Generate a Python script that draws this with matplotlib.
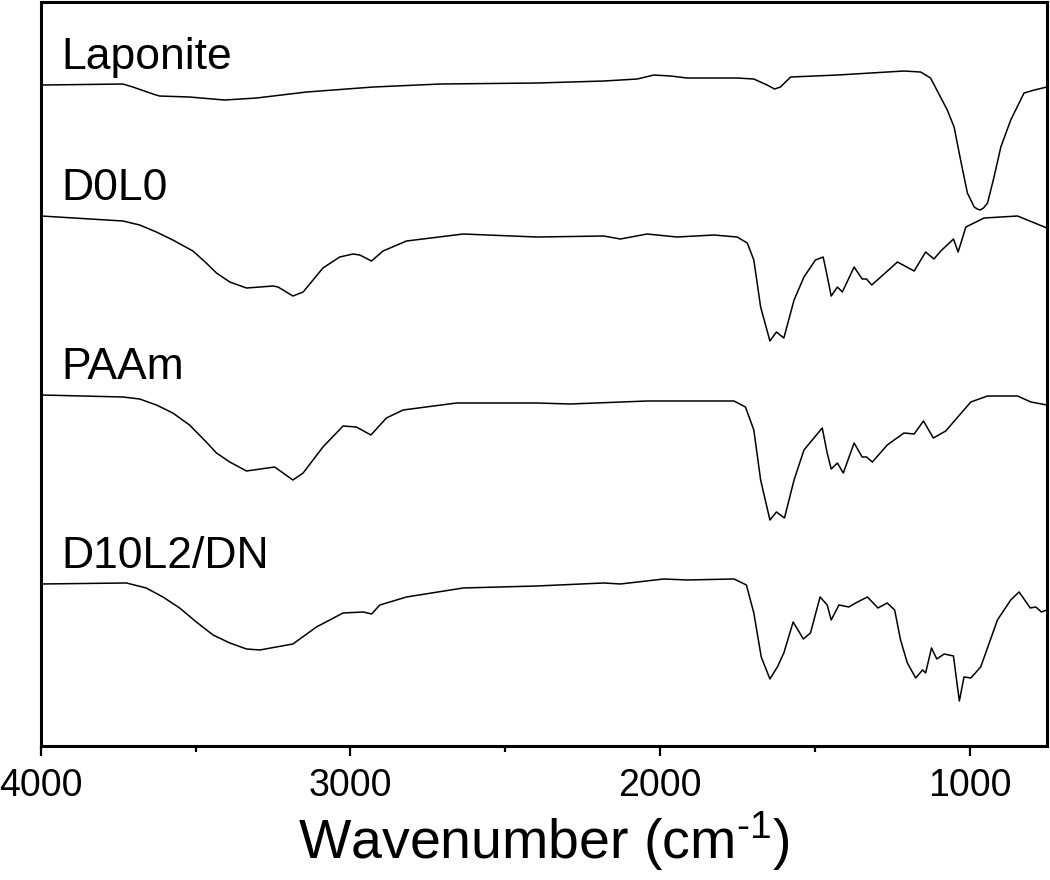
import matplotlib
matplotlib.use("Agg")
import matplotlib.pyplot as plt
from matplotlib.ticker import MultipleLocator

plt.rcParams["font.family"] = ["Liberation Sans", "DejaVu Sans"]
plt.rcParams["mathtext.fontset"] = "custom"
plt.rcParams["mathtext.rm"] = "Liberation Sans"
plt.rcParams["mathtext.default"] = "regular"
plt.rcParams["axes.unicode_minus"] = False

# FTIR spectra, transmittance in arbitrary units (already stacked)
lap_wn = [3998, 3735, 3703, 3638, 3617, 3520, 3407, 3304, 3142, 2927, 2711, 2398, 2182,
          2074, 2020, 1966, 1912, 1751, 1697, 1654, 1630, 1611, 1578, 1427, 1320, 1212,
          1158, 1126, 1072, 1050, 1029, 1007, 985, 975, 966, 955, 942, 921, 899, 867,
          824, 791, 750]
lap_t = [661, 662, 659, 652, 650, 649, 646, 648, 654, 659, 662, 663, 665,
         667, 671, 670, 668, 668, 667, 661, 657, 659, 669, 671, 673, 675,
         674, 668, 636, 619, 586, 553, 539, 537, 536, 538, 543, 569, 599, 626,
         653, 656, 659]

d0l0_wn = [3998, 3735, 3681, 3627, 3574, 3509, 3466, 3433, 3390, 3336, 3250, 3234, 3186,
           3153, 3121, 3089, 3035, 2992, 2970, 2932, 2895, 2819, 2636, 2398, 2182, 2128,
           2042, 1945, 1826, 1751, 1718, 1697, 1675, 1645, 1624, 1600, 1567, 1535, 1498,
           1473, 1462, 1447, 1427, 1411, 1373, 1347, 1333, 1316, 1233, 1179, 1142, 1115,
           1093, 1052, 1037, 1012, 953, 845, 750]
d0l0_t = [530, 525, 521, 514, 506, 495, 483, 473, 464, 458, 460, 459, 450,
          454, 466, 478, 489, 492, 491, 485, 495, 505, 512, 509, 510, 507,
          512, 509, 511, 509, 503, 486, 439, 405, 414, 408, 446, 469, 486,
          489, 473, 450, 459, 454, 479, 467, 467, 461, 484, 475, 494, 487,
          495, 507, 494, 519, 528, 530, 518]

paam_wn = [3998, 3735, 3681, 3627, 3574, 3520, 3466, 3433, 3390, 3336, 3245, 3186, 3153,
           3089, 3024, 2981, 2934, 2884, 2830, 2657, 2398, 2290, 2042, 1761, 1724, 1697,
           1675, 1645, 1624, 1598, 1567, 1535, 1476, 1460, 1447, 1427, 1408, 1373, 1347,
           1333, 1314, 1266, 1212, 1179, 1149, 1117, 1077, 996, 942, 845, 802, 750]
paam_t = [351, 349, 347, 341, 333, 321, 304, 293, 284, 275, 279, 266, 273,
          299, 320, 319, 311, 328, 336, 343, 343, 342, 345, 345, 339, 316,
          266, 226, 234, 228, 266, 296, 318, 293, 277, 283, 273, 303, 289,
          289, 284, 301, 313, 312, 325, 308, 315, 344, 350, 350, 344, 341]

d10_wn = [3998, 3724, 3660, 3606, 3552, 3498, 3444, 3390, 3336, 3293, 3186, 3110, 3024,
          2959, 2932, 2905, 2819, 2636, 2398, 2182, 2128, 1988, 1912, 1761, 1721, 1697,
          1673, 1645, 1621, 1600, 1570, 1537, 1514, 1483, 1460, 1447, 1422, 1390, 1368,
          1330, 1296, 1266, 1242, 1223, 1201, 1174, 1152, 1142, 1123, 1106, 1082, 1052,
          1042, 1033, 1018, 996, 964, 910, 867, 840, 804, 786, 768, 750]
d10_t = [162, 163, 158, 149, 138, 124, 111, 103, 97, 96, 102, 119, 133,
         134, 132, 141, 149, 158, 160, 163, 162, 167, 166, 167, 161, 133,
         89, 67, 79, 93, 124, 107, 113, 149, 141, 126, 141, 139, 143,
         149, 138, 143, 136, 106, 83, 68, 76, 73, 98, 87, 92, 90,
         66, 45, 69, 68, 79, 126, 146, 154, 138, 139, 134, 136]

names = ["Laponite", "D0L0", "PAAm", "D10L2/DN"]
spectra = [(lap_wn, lap_t), (d0l0_wn, d0l0_t), (paam_wn, paam_t), (d10_wn, d10_t)]

fig = plt.figure(figsize=(10.5, 8.8), dpi=100)
ax = fig.add_axes([0.039, 0.1523, 0.9581, 0.8454])

for name, (wn, t) in zip(names, spectra):
    ax.plot(wn, t, color="black", lw=1.1, solid_joinstyle="round")
    ax.annotate(name, xy=(wn[0], t[0]), xytext=(20, 16), textcoords="offset pixels",
                fontsize=32, va="baseline", ha="left")

ax.set_xlim(4000, 750)
ax.set_ylim(0, 744)
ax.set_yticks([])
ax.xaxis.set_major_locator(MultipleLocator(1000))
ax.xaxis.set_minor_locator(MultipleLocator(500))
ax.tick_params(axis="x", which="major", direction="out", length=7.5, width=1.6,
               labelsize=27, pad=8)
ax.tick_params(axis="x", which="minor", direction="out", length=4, width=1.6)
for sp in ax.spines.values():
    sp.set_linewidth(2.2)

ax.set_xlabel(r"Wavenumber (cm$^{\text{-}1}$)", fontsize=40, labelpad=4)

fig.savefig("out.png", dpi=100)
